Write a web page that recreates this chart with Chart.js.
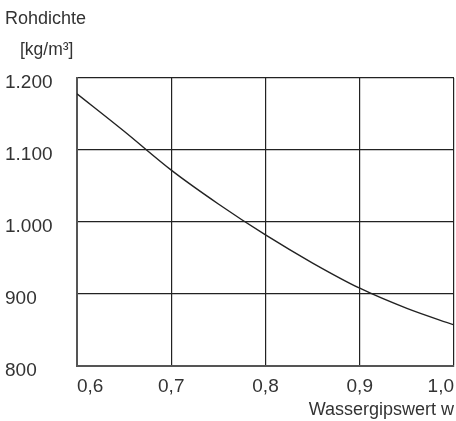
<!DOCTYPE html>
<html>
<head>
<meta charset="utf-8">
<script src="https://cdn.jsdelivr.net/npm/chart.js@4/dist/chart.umd.min.js"></script>
<style>
  html, body { margin: 0; padding: 0; background: #fff; }
  #wrap { position: relative; width: 456px; height: 421px; font-family: "Liberation Sans", Arial, sans-serif; color: #333; }
  .lbl { position: absolute; white-space: nowrap; line-height: 1; }
</style>
</head>
<body>
<div id="wrap">
  <div class="lbl" style="left:5px; top:9px; font-size:18px;">Rohdichte</div>
  <div class="lbl" style="left:20px; top:41px; font-size:17.5px;">[kg/m³]</div>
  <canvas id="c" width="456" height="421"></canvas>
</div>
<script>
// Wassergipswert w vs Rohdichte (kg/m3)
const wValues = [0.6, 0.65, 0.7, 0.75, 0.8, 0.85, 0.9, 0.95, 1.0];
const density = [1178, 1126, 1072, 1025, 982, 943, 908, 880, 857];
const xTicks = [0.6, 0.7, 0.8, 0.9, 1.0];
const yTicks = [800, 900, 1000, 1100, 1200];

const ink = '#333';
const fontFam = '"Liberation Sans", Arial, sans-serif';

new Chart(document.getElementById('c'), {
    type: 'line',
    data: {
        datasets: [{
            data: wValues.map((w, i) => ({ x: w, y: density[i] })),
            borderColor: '#222',
            borderWidth: 1.4,
            pointRadius: 0,
            cubicInterpolationMode: 'monotone',
            fill: false
        }]
    },
    options: {
        responsive: false,
        animation: false,
        layout: { padding: { left: 5, top: 78, right: 2, bottom: 0 } },
        plugins: { legend: { display: false }, tooltip: { enabled: false } },
        scales: {
            x: {
                type: 'linear',
                min: 0.6,
                max: 1.0,
                afterBuildTicks: s => { s.ticks = xTicks.map(v => ({ value: v })); },
                afterFit: s => { s.height = 55; s.paddingLeft = 0; s.paddingRight = 0; },
                grid: { color: '#222', lineWidth: 1.2, drawTicks: false },
                border: { color: '#555', width: 2 },
                ticks: {
                    align: 'inner',
                    padding: 9,
                    color: ink,
                    font: { family: fontFam, size: 19 },
                    callback: v => v.toFixed(1).replace('.', ',')
                },
                title: {
                    display: true,
                    text: 'Wassergipswert w',
                    align: 'end',
                    color: ink,
                    font: { family: fontFam, size: 18 },
                    padding: { top: 1, bottom: 0 }
                }
            },
            y: {
                min: 800,
                max: 1200,
                afterBuildTicks: s => { s.ticks = yTicks.map(v => ({ value: v })); },
                afterFit: s => { s.width = 72; s.paddingTop = 0; s.paddingBottom = 0; },
                grid: { color: '#222', lineWidth: 1.2, drawTicks: false },
                border: { color: '#555', width: 2 },
                ticks: {
                    crossAlign: 'far',
                    labelOffset: 5,
                    color: ink,
                    font: { family: fontFam, size: 19 },
                    callback: v => v >= 1000 ? (v / 1000).toFixed(3) : String(v)
                }
            }
        }
    }
});
</script>
</body>
</html>
